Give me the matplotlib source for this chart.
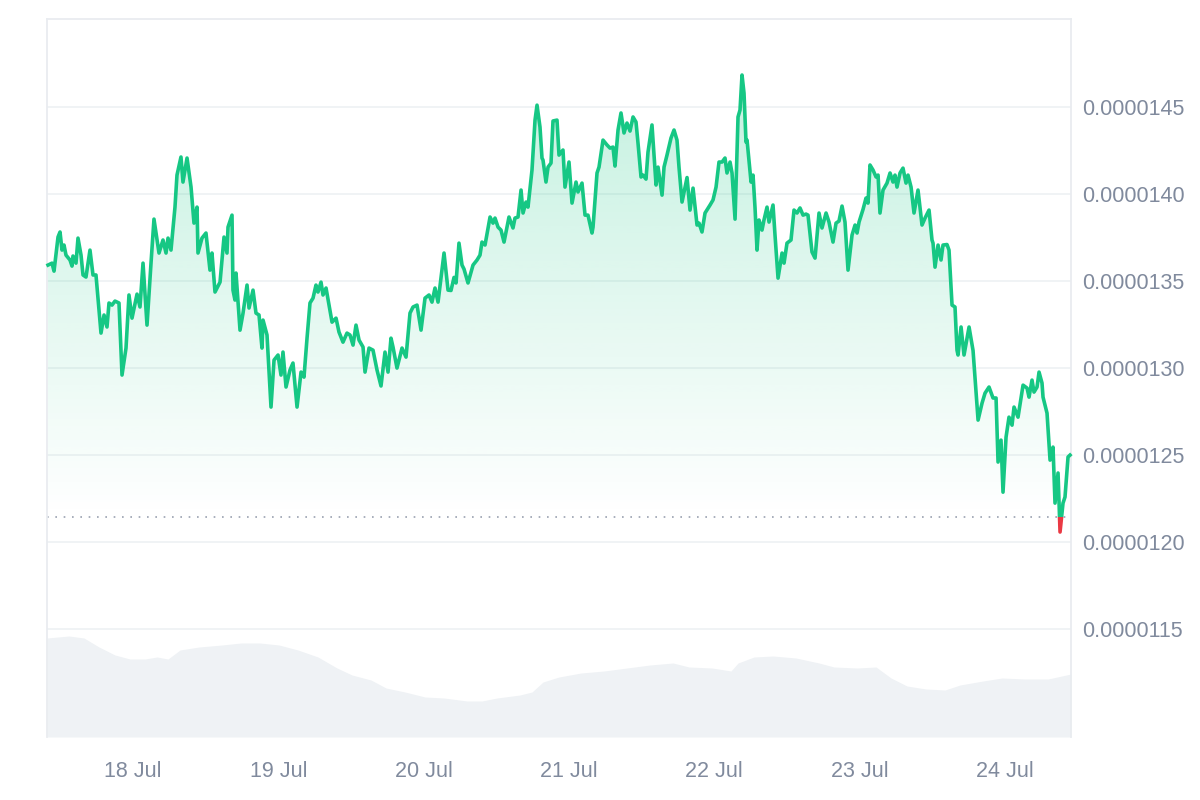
import numpy as np
import matplotlib
matplotlib.use("Agg")
import matplotlib.pyplot as plt
import matplotlib.dates as mdates
from matplotlib.colors import to_rgb
from matplotlib.patches import Polygon, Rectangle
from datetime import datetime

# hours since 17 Jul 09:48, price in units of 1e-7
hours = [
    0.17, 0.83, 1.16, 1.82, 2.15, 2.48, 2.81, 3.14, 3.80, 4.13, 4.29, 4.79, 5.12, 5.62, 5.95, 6.44,
    7.10, 7.60, 8.09, 8.92, 9.42, 9.91, 10.24, 10.74, 11.23, 11.89, 12.39, 13.05, 13.54, 14.04, 14.87,
    15.36, 15.86, 16.52, 17.18, 17.67, 18.50, 19.16, 19.66, 19.99, 20.48, 21.14, 21.47, 22.13, 22.46,
    23.13, 23.79, 24.28, 24.78, 24.94, 25.60, 26.26, 26.92, 27.25, 27.75, 28.58, 29.24, 29.73, 29.90,
    30.56, 30.72, 31.05, 31.22, 31.88, 32.38, 33.04, 33.37, 34.03, 34.52, 35.02, 35.51, 35.68, 36.34,
    37.00, 37.50, 38.16, 38.65, 38.98, 39.48, 40.14, 40.63, 41.30, 41.96, 42.45, 42.95, 43.44, 43.94,
    44.43, 44.76, 45.26, 45.59, 46.09, 47.08, 47.74, 48.23, 48.89, 49.55, 50.05, 50.55, 51.04, 51.54,
    52.20, 52.53, 53.19, 53.85, 54.51, 55.17, 55.83, 56.33, 56.82, 57.15, 57.81, 58.64, 59.30, 59.96,
    60.46, 61.12, 61.78, 62.44, 63.10, 63.59, 64.09, 64.59, 65.58, 66.24, 66.73, 67.23, 67.56, 68.05,
    68.55, 68.88, 69.54, 70.37, 71.03, 71.52, 71.85, 72.35, 73.18, 73.67, 74.00, 74.50, 74.99, 75.49,
    76.31, 76.97, 77.30, 77.80, 78.30, 78.63, 79.12, 79.45, 80.11, 80.61, 80.94, 81.43, 81.76, 81.93,
    82.42, 82.76, 83.25, 83.58, 84.24, 84.57, 85.23, 85.56, 86.22, 86.72, 87.38, 87.71, 88.37, 88.87,
    89.36, 90.02, 90.19, 90.85, 91.18, 91.84, 92.50, 93.00, 93.49, 93.82, 94.32, 94.81, 95.31, 95.80,
    96.30, 96.80, 97.29, 97.62, 98.12, 98.45, 98.94, 99.27, 99.93, 100.26, 100.60, 100.93, 101.59,
    101.92, 102.41, 103.07, 103.57, 104.06, 104.39, 104.89, 105.39, 105.72, 106.21, 106.71, 107.37,
    107.70, 108.19, 108.69, 109.52, 110.01, 110.51, 111.00, 111.50, 111.99, 112.32, 112.82, 113.15,
    113.65, 114.14, 114.47, 114.80, 115.13, 115.46, 115.63, 116.29, 116.62, 116.95, 117.28, 117.61,
    118.10, 118.43, 118.93, 119.26, 119.92, 120.25, 120.75, 121.41, 121.74, 122.23, 122.89, 123.39,
    123.89, 124.38, 124.88, 125.37, 125.70, 126.36, 126.86, 127.52, 128.01, 128.68, 129.17, 129.83,
    130.33, 130.82, 131.32, 131.81, 132.31, 132.97, 133.47, 133.80, 134.13, 134.79, 135.28, 135.61,
    135.94, 136.44, 136.94, 137.27, 137.59, 138.09, 138.75, 139.25, 139.74, 140.07, 140.40, 140.90,
    141.39, 141.89, 142.22, 142.72, 143.21, 143.87, 144.53, 145.03, 145.69, 146.18, 146.35, 146.68,
    147.18, 147.67, 148.00, 148.66, 148.99, 149.49, 149.98, 150.31, 150.48, 150.98, 151.47, 152.30,
    152.96, 153.79, 154.45, 154.94, 155.60, 156.26, 156.76, 157.09, 157.58, 157.91, 158.41, 158.90,
    159.40, 159.73, 160.39, 161.22, 161.88, 162.21, 162.70, 163.03, 163.53, 163.86, 164.35, 164.52,
    165.18, 165.68, 166.17, 166.50, 167.00, 167.33, 167.82, 168.15, 168.65, 168.98,
]
price_e7 = [
    135.92, 136.03, 135.57, 137.53, 137.82, 136.78, 137.07, 136.49, 136.21, 135.86, 136.44, 136.03,
    137.47, 136.49, 135.35, 135.23, 136.78, 135.35, 135.35, 132.01, 133.05, 132.36, 133.74, 133.62,
    133.85, 133.74, 129.60, 131.15, 134.20, 132.87, 134.25, 133.51, 136.03, 132.47, 136.03, 138.56,
    136.61, 137.36, 136.61, 137.47, 136.78, 139.25, 141.09, 142.13, 140.69, 142.07, 140.40, 138.33,
    139.25, 136.61, 137.47, 137.76, 135.63, 136.61, 134.37, 134.94, 137.53, 136.61, 138.10, 138.79,
    134.48, 133.91, 135.46, 132.18, 133.16, 134.77, 133.45, 134.48, 133.16, 133.05, 131.15, 132.76,
    131.90, 127.76, 130.46, 130.75, 129.60, 130.92, 128.91, 129.89, 130.29, 127.76, 129.77, 129.48,
    131.72, 133.74, 134.02, 134.77, 134.37, 134.94, 134.20, 134.60, 132.64, 132.87, 132.07, 131.49,
    132.01, 131.90, 131.32, 132.47, 131.61, 131.21, 129.77, 131.15, 131.03, 129.89, 128.97, 130.92,
    129.77, 131.72, 131.21, 130.00, 131.15, 130.63, 133.16, 133.51, 133.62, 132.18, 134.02, 134.20,
    133.79, 134.60, 133.79, 136.61, 134.48, 134.46, 135.21, 134.89, 137.18, 135.92, 135.69, 134.89,
    135.92, 136.21, 136.49, 137.24, 137.07, 138.68, 138.33, 138.62, 138.10, 137.93, 137.24, 138.68,
    138.05, 138.62, 138.68, 140.23, 138.91, 139.54, 139.25, 141.38, 144.25, 145.11, 143.85, 142.07,
    141.95, 140.69, 141.55, 141.78, 144.20, 144.25, 142.24, 142.53, 140.40, 141.84, 139.48, 140.69,
    140.12, 140.63, 138.79, 138.79, 137.76, 138.10, 141.21, 141.55, 143.10, 142.82, 142.64, 142.70,
    141.61, 143.68, 144.66, 143.51, 144.08, 143.62, 144.43, 144.14, 142.93, 140.98, 141.09, 140.86,
    142.41, 143.97, 142.24, 140.52, 141.55, 139.94, 141.55, 142.24, 143.22, 143.68, 143.10, 141.55,
    139.54, 140.40, 140.95, 139.08, 140.34, 138.22, 138.33, 137.82, 138.91, 139.37, 139.66, 140.40,
    141.84, 141.84, 142.07, 141.21, 141.84, 141.21, 138.56, 144.43, 144.83, 146.84, 145.80, 142.99,
    143.10, 140.69, 141.09, 139.20, 136.78, 138.51, 137.93, 138.51, 139.25, 138.39, 139.37, 137.64,
    135.17, 136.61, 136.03, 137.18, 137.36, 139.08, 138.91, 139.20, 138.79, 138.85, 138.79, 136.67,
    136.32, 138.91, 138.05, 138.91, 138.39, 137.24, 138.33, 138.45, 139.31, 138.39, 135.63, 137.64,
    138.22, 137.76, 138.39, 139.12, 139.77, 139.48, 141.67, 141.38, 140.98, 141.09, 138.91, 140.23,
    140.63, 141.21, 140.69, 141.09, 140.40, 141.21, 141.49, 140.63, 141.09, 140.40, 138.91, 140.23,
    138.22, 138.62, 139.08, 137.36, 137.18, 135.80, 137.07, 136.21, 137.07, 137.10, 136.78, 133.62,
    133.51, 131.03, 130.75, 132.36, 130.75, 132.36, 131.01, 127.01, 127.99, 128.56, 128.91, 128.28,
    128.28, 124.60, 125.86, 122.87, 126.03, 127.18, 126.72, 127.76, 127.18, 129.02, 128.85, 128.33,
    129.31, 128.62, 128.91, 129.77, 129.14, 128.33, 127.41, 124.71, 125.46, 122.24, 123.97, 120.58,
    122.24, 122.59, 124.89, 125.00,
]
baseline_e7 = 121.45

# volume (arbitrary units), hours since start
vol_hours = [
    0.0, 3.63, 6.11, 8.59, 11.23, 13.71, 16.19, 18.17, 19.99, 21.97, 25.11, 28.91, 32.04, 35.18,
    38.32, 41.46, 44.76, 47.90, 50.38, 53.52, 56.00, 59.13, 62.44, 65.58, 69.38, 71.85, 74.33, 78.13,
    80.11, 81.93, 84.57, 88.21, 92.01, 95.80, 99.60, 103.40, 106.05, 109.85, 112.98, 114.14, 116.78,
    119.92, 123.72, 127.52, 130.00, 133.80, 136.94, 139.41, 142.05, 145.19, 148.33, 150.81, 154.61,
    157.75, 161.55, 165.35, 169.14,
]
volume = [
    9.9, 10.1, 9.9, 9.0, 8.2, 7.8, 7.8, 8.0, 7.8, 8.7, 9.0, 9.2, 9.4, 9.4, 9.2, 8.7, 8.0, 6.9, 6.2,
    5.7, 4.9, 4.5, 4.0, 3.9, 3.6, 3.6, 3.9, 4.2, 4.5, 5.5, 6.0, 6.4, 6.6, 6.9, 7.2, 7.4, 7.0, 6.9,
    6.6, 7.4, 8.0, 8.1, 7.9, 7.4, 7.0, 6.9, 7.0, 5.9, 5.1, 4.8, 4.7, 5.2, 5.6, 5.9, 5.8, 5.8, 6.3,
]

y_ticks_e7 = [115, 120, 125, 130, 135, 140, 145]

green = "#16c784"
red = "#ea3943"
text_color = "#808a9d"
grid_color = "#eff2f5"
vol_color = "#eff2f5"

t0 = mdates.date2num(datetime(2023, 7, 17, 9, 48))
t = t0 + np.array(hours) / 24.0
price = np.array(price_e7) * 1e-7
base = baseline_e7 * 1e-7
tv = t0 + np.array(vol_hours) / 24.0
x_lo, x_hi = t0, t0 + vol_hours[-1] / 24.0
y_lo, y_hi = 108.8e-7, 150.06e-7

plt.rcParams["font.family"] = ["Liberation Sans", "DejaVu Sans"]
fig = plt.figure(figsize=(12, 8), dpi=100)
pos = [47 / 1200, 63 / 800, 1024 / 1200, 718 / 800]

# volume in the background
axv = fig.add_axes(pos, zorder=0)
axv.fill_between(tv, volume, 0, color=vol_color, lw=0)
axv.set_xlim(x_lo, x_hi)
axv.set_ylim(0, 71.8)
axv.axis("off")

ax = fig.add_axes(pos, zorder=1)
ax.patch.set_visible(False)

# gradient fill between line and baseline
rgb = to_rgb(green)
grad = np.zeros((256, 1, 4))
grad[..., :3] = rgb
grad[..., 3] = np.linspace(0.0, 0.25, 256)[:, None]
im = ax.imshow(grad, extent=[t[0], t[-1], base, price.max()], origin="lower",
               aspect="auto", zorder=1, interpolation="bilinear")
verts = np.column_stack([np.r_[t[0], t, t[-1]], np.r_[base, np.maximum(price, base), base]])
clip = Polygon(verts, closed=True, transform=ax.transData, facecolor="none", edgecolor="none")
ax.add_patch(clip)
im.set_clip_path(clip)

ax.axhline(base, color="#9aa1b0", lw=1.2, linestyle=(0, (1, 4)), zorder=2)

above = Rectangle((x_lo - 1, base), 10, 1, transform=ax.transData)
below = Rectangle((x_lo - 1, base - 1), 10, 1, transform=ax.transData)
ln_g, = ax.plot(t, price, color=green, lw=2.6, zorder=3, solid_joinstyle="round")
ln_g.set_clip_path(above)
ln_r, = ax.plot(t, price, color=red, lw=2.6, zorder=3, solid_joinstyle="round")
ln_r.set_clip_path(below)

ax.set_xlim(x_lo, x_hi)
ax.set_ylim(y_lo, y_hi)

ax.yaxis.tick_right()
ax.set_yticks(np.array(y_ticks_e7) * 1e-7)
ax.yaxis.set_major_formatter(plt.FuncFormatter(lambda v, p: f"{v:.7f}"))
ax.xaxis.set_major_locator(mdates.DayLocator())
ax.xaxis.set_major_formatter(mdates.DateFormatter("%d %b"))
ax.tick_params(axis="y", length=0, pad=8, labelsize=15.5, labelcolor=text_color)
ax.tick_params(axis="x", length=0, pad=17, labelsize=15.5, labelcolor=text_color)
ax.yaxis.grid(True, color=grid_color, lw=1.3)
ax.set_axisbelow(True)
for side in ("top", "left", "right"):
    ax.spines[side].set_color("#e9ecf0")
    ax.spines[side].set_linewidth(1.3)
ax.spines["bottom"].set_visible(False)

fig.savefig("out.png", dpi=100, facecolor="white")
